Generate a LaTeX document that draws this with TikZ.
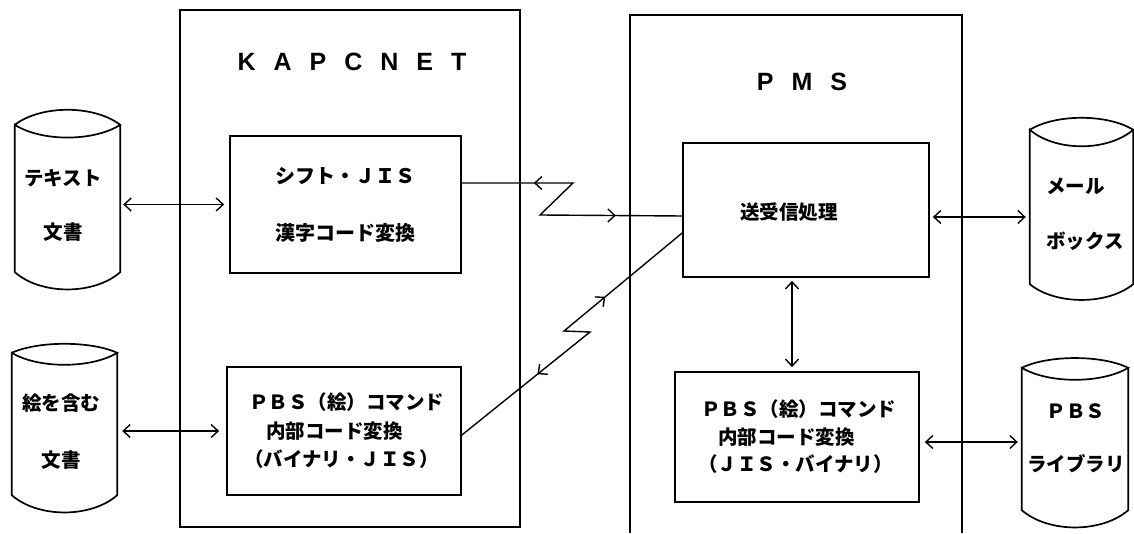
\documentclass[tikz,border=0pt]{standalone}
\usepackage{fontspec}
\newfontfamily\jp{Noto Sans CJK JP}
\newfontfamily\ttl{Liberation Sans}[LetterSpace=72]
\usetikzlibrary{arrows.meta,decorations.markings,calc}
\tikzset{
  >={Straight Barb[length=7pt,width=13pt]},
  ln/.style={line width=1.7pt},
  thin/.style={line width=1.4pt},
  box/.style={draw, line width=1.7pt, inner sep=0pt, rectangle},
  body/.style={inner sep=0pt, rectangle},
  jt/.style={font=\jp\bfseries\fontsize{19.5}{28.5}\selectfont, inner sep=0pt},
  dbl/.style={line width=1.4pt, <->},
  ttlfont/.style={font=\ttl\bfseries\fontsize{25}{26}\selectfont, inner sep=0pt},
}
\newcommand\cylshape[4]{%
  \draw[ln] (#1.north west)
    .. controls ($(#1.north west)!0.25!(#1.north east)+(0,#2)$) and ($(#1.north west)!0.75!(#1.north east)+(0,#2)$) .. (#1.north east)
    .. controls ($(#1.north west)!0.75!(#1.north east)+(0,-#3)$) and ($(#1.north west)!0.25!(#1.north east)+(0,-#3)$) .. (#1.north west)
    -- (#1.south west)
    .. controls ($(#1.south west)!0.25!(#1.south east)+(0,-#4)$) and ($(#1.south west)!0.75!(#1.south east)+(0,-#4)$) .. (#1.south east)
    -- (#1.north east);
}
\begin{document}
\begin{tikzpicture}[x=1pt,y=1pt]
\useasboundingbox (0,0) rectangle (1134,533);

% frames
\node[box, minimum width=340pt, minimum height=517pt] (kap) at (350,264.5) {};
\node[ttlfont] (kapt) at (352,471) {KAPCNET};
\draw[ln] (630,0) -- (630,518) -- (962,518) -- (962,0);
\node[ttlfont] (pmst) at (802,451) {PMS};

% inner boxes
\node[box, font=\jp\bfseries\fontsize{20}{57}\selectfont, minimum width=231pt, minimum height=137pt, align=center] (b1) at (345.5,328.5) {シフト・ＪＩＳ\\漢字コード変換};
\node[box, minimum width=246pt, minimum height=134pt] (b2) at (806,323) {};
\node[jt] (b2t) at (789,321) {送受信処理};
\node[box, jt, minimum width=234pt, minimum height=128pt, align=left] (b3) at (344,102)
  {\hspace*{5pt}ＰＢＳ（絵）コマンド\\\hspace*{22pt}内部コード変換\\（バイナリ・ＪＩＳ）};
\node[box, jt, font=\jp\bfseries\fontsize{19.5}{27.5}\selectfont, minimum width=244pt, minimum height=130pt, align=left] (b4) at (797,96)
  {\hspace*{3pt}ＰＢＳ（絵）コマンド\\\hspace*{20pt}内部コード変換\\（ＪＩＳ・バイナリ）};

% cylinders
\node[body, minimum width=105pt, minimum height=147pt] (c1) at (67.5,334.5) {};
\cylshape{c1}{20}{17}{23}
\node[jt, font=\jp\bfseries\fontsize{19.5}{54}\selectfont, align=center] (c1t) at (63,328) {テキスト\\文書};

\node[body, minimum width=105pt, minimum height=142pt] (c2) at (64.5,109) {};
\cylshape{c2}{12}{16}{23}
\node[jt, font=\jp\bfseries\fontsize{19.5}{57}\selectfont, align=center] (c2t) at (61,101.5) {絵を含む\\文書};

\node[body, minimum width=103pt, minimum height=154pt] (c3) at (1081.5,326) {};
\cylshape{c3}{16}{22}{21}
\node[jt, font=\jp\bfseries\fontsize{19.5}{55}\selectfont, align=left, anchor=west] (c3t) at (1046,318.5) {メール\\ボックス};

\node[body, minimum width=106pt, minimum height=142pt] (c4) at (1075,94) {};
\cylshape{c4}{13}{16}{23}
\node[jt, font=\jp\bfseries\fontsize{19.5}{53}\selectfont, align=center] (c4t) at (1076,94.5) {ＰＢＳ\\ライブラリ};

% double arrows
\draw[dbl, shorten <=3pt, shorten >=5pt] (b1.west -| c1.east) -- (b1.west);
\draw[dbl, shorten <=5pt, shorten >=7pt] (b3.west -| c2.east) -- (b3.west);
\draw[dbl, shorten <=3pt, shorten >=4pt] ([yshift=-7pt]b2.east) -- ([yshift=-7pt]b2.east -| c3.west);
\draw[dbl, shorten <=5pt, shorten >=4pt] ([yshift=-5pt]b4.east) -- ([yshift=-5pt]b4.east -| c4.west);
\draw[dbl, shorten <=3pt, shorten >=4pt] ([xshift=-14pt]b2.south) -- ([xshift=-14pt]b2.south |- b4.north);

% zigzag links
\draw[thin, postaction={decorate}, decoration={markings,
    mark=at position 72pt with {\arrowreversed{>}},
    mark=at position 233pt with {\arrow{>}}}]
  ([yshift=21.5pt]b1.east) -- (573,350) -- (540,318) -- ([yshift=-6pt]b2.west);
\draw[thin, postaction={decorate}, decoration={markings,
    mark=at position 97pt with {\arrowreversed{>}},
    mark=at position 244pt with {\arrow{>}}}]
  ([yshift=-4pt]b3.east) -- (590,201) -- (564,202) -- ([yshift=-23pt]b2.west);
\end{tikzpicture}
\end{document}
